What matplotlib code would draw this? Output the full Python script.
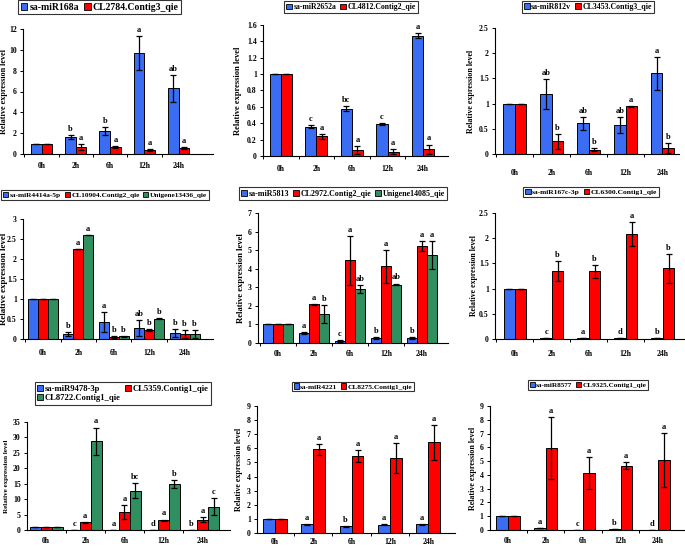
import matplotlib
matplotlib.use("Agg")
import matplotlib.pyplot as plt
from matplotlib.ticker import FuncFormatter, MultipleLocator, FixedLocator
from matplotlib.patches import Patch

plt.rcParams['font.family'] = ['Liberation Serif', 'DejaVu Serif']
plt.rcParams['font.weight'] = 'bold'

categories = ['0h', '2h', '6h', '12h', '24h']

# Panel 1
p1_names = ['sa-miR168a', 'CL2784.Contig3_qie']
p1_blue = [1, 1.6, 2.2, 9.7, 6.3]
p1_blue_err = [0, 0.2, 0.4, 1.6, 1.3]
p1_red = [1, 0.65, 0.65, 0.4, 0.6]
p1_red_err = [0, 0.3, 0.1, 0.1, 0.1]
p1_blue_let = ['', 'b', 'b', 'a', 'ab']
p1_red_let = ['', 'a', 'a', 'a', 'a']

# Panel 2
p2_names = ['sa-miR2652a', 'CL4812.Contig2_qie']
p2_blue = [1, 0.36, 0.58, 0.39, 1.47]
p2_blue_err = [0, 0.02, 0.03, 0.01, 0.03]
p2_red = [1, 0.24, 0.07, 0.05, 0.08]
p2_red_err = [0, 0.03, 0.05, 0.03, 0.06]
p2_blue_let = ['', 'c', 'bc', 'c', 'a']
p2_red_let = ['', 'a', 'a', 'a', 'a']

# Panel 3
p3_names = ['sa-miR812v', 'CL3453.Contig3_qie']
p3_blue = [1, 1.19, 0.61, 0.58, 1.6]
p3_blue_err = [0, 0.3, 0.13, 0.16, 0.33]
p3_red = [1, 0.25, 0.08, 0.95, 0.11]
p3_red_err = [0, 0.15, 0.03, 0.01, 0.1]
p3_blue_let = ['', 'ab', 'ab', 'ab', 'a']
p3_red_let = ['', 'b', 'b', 'a', 'b']

# Panel 4
p4_names = ['sa-miR4414a-5p', 'CL10904.Contig2_qie', 'Unigene13436_qie']
p4_blue = [1, 0.12, 0.43, 0.28, 0.15]
p4_blue_err = [0, 0.05, 0.25, 0.2, 0.1]
p4_red = [1, 2.25, 0.05, 0.22, 0.13]
p4_red_err = [0, 0.01, 0.03, 0.03, 0.1]
p4_green = [1, 2.6, 0.07, 0.51, 0.12]
p4_green_err = [0, 0.01, 0.01, 0.02, 0.1]
p4_blue_let = ['', 'b', 'a', 'ab', 'b']
p4_red_let = ['', 'a', 'b', 'b', 'b']
p4_green_let = ['', 'a', 'b', 'b', 'b']

# Panel 5
p5_names = ['sa-miR5813', 'CL2972.Contig2_qie', 'Unigene14085_qie']
p5_blue = [1, 0.55, 0.1, 0.28, 0.27]
p5_blue_err = [0, 0.05, 0.05, 0.04, 0.03]
p5_red = [1, 2.08, 4.45, 4.13, 5.22]
p5_red_err = [0, 0.03, 1.3, 0.9, 0.25]
p5_green = [1, 1.55, 2.9, 3.15, 4.75]
p5_green_err = [0, 0.48, 0.22, 0.05, 0.75]
p5_blue_let = ['', 'a', 'c', 'b', 'b']
p5_red_let = ['', 'a', 'a', 'a', 'a']
p5_green_let = ['', 'b', 'ab', 'ab', 'a']

# Panel 6
p6_names = ['sa-miR167c-3p', 'CL6300.Contig1_qie']
p6_blue = [1, 0.01, 0.02, 0.01, 0.01]
p6_blue_err = [0, 0, 0, 0, 0]
p6_red = [1, 1.35, 1.34, 2.08, 1.4]
p6_red_err = [0, 0.19, 0.12, 0.24, 0.28]
p6_blue_let = ['', 'c', 'a', 'd', 'b']
p6_red_let = ['', 'b', 'b', 'a', 'b']

# Panel 7
p7_names = ['sa-miR9478-3p', 'CL5359.Contig1_qie', 'CL8722.Contig1_qie']
p7_blue = [1, 0, 0, 0, 0]
p7_blue_err = [0, 0, 0, 0, 0]
p7_red = [1, 2.5, 5.8, 3.2, 3.3]
p7_red_err = [0, 0.2, 2.2, 0.2, 0.8]
p7_green = [1, 28.7, 12.8, 14.8, 7.5]
p7_green_err = [0, 4.5, 2.3, 1.3, 2.8]
p7_blue_let = ['', 'c', 'a', 'd', 'b']
p7_red_let = ['', 'a', 'a', 'a', 'a']
p7_green_let = ['', 'a', 'bc', 'b', 'c']

# Panel 8
p8_names = ['sa-miR4221', 'CL8275.Contig1_qie']
p8_blue = [1, 0.62, 0.47, 0.58, 0.62]
p8_blue_err = [0, 0.03, 0.03, 0.03, 0.02]
p8_red = [1, 5.93, 5.45, 5.3, 6.43]
p8_red_err = [0, 0.4, 0.42, 1.07, 1.23]
p8_blue_let = ['', 'a', 'b', 'a', 'a']
p8_red_let = ['', 'a', 'a', 'a', 'a']

# Panel 9
p9_names = ['sa-miR8577', 'CL9325.Contig1_qie']
p9_blue = [1, 0.12, 0.01, 0.05, 0.01]
p9_blue_err = [0, 0, 0, 0, 0]
p9_red = [1, 5.98, 4.15, 4.68, 5.07]
p9_red_err = [0, 2.25, 1.15, 0.25, 1.95]
p9_blue_let = ['', 'a', 'c', 'b', 'd']
p9_red_let = ['', 'a', 'a', 'a', 'a']

BLUE = '#3a6cf4'
RED = '#ff0000'
GREEN = '#2f8f5f'

W, H = 685, 547
fig = plt.figure(figsize=(6.85, 5.47), dpi=100)

panels = [
    dict(names=p1_names, series=[(p1_blue, p1_blue_err, p1_blue_let, BLUE), (p1_red, p1_red_err, p1_red_let, RED)],
         box=(23, 213, 29, 154), xlim=(-0.54, 5.0), ylim=(0, 12), step=2, leg=(99.5, 7), ncol=2,
         lfs=7.0, ylx=5, ylfs=5.9, xd=11),
    dict(names=p2_names, series=[(p2_blue, p2_blue_err, p2_blue_let, BLUE), (p2_red, p2_red_err, p2_red_let, RED)],
         box=(263, 448, 25, 156), xlim=(-0.5, 4.7), ylim=(0, 1.6), step=0.2, leg=(351, 7), ncol=2,
         lfs=5.6, ylx=239, ylfs=6.1, xd=12),
    dict(names=p3_names, series=[(p3_blue, p3_blue_err, p3_blue_let, BLUE), (p3_red, p3_red_err, p3_red_let, RED)],
         box=(495, 679, 28, 154), xlim=(-0.54, 4.45), ylim=(0, 2.5), step=0.5, leg=(588, 7), ncol=2,
         lfs=5.7, ylx=472, ylfs=5.8, xd=18),
    dict(names=p4_names, series=[(p4_blue, p4_blue_err, p4_blue_let, BLUE), (p4_red, p4_red_err, p4_red_let, RED),
                                 (p4_green, p4_green_err, p4_green_let, GREEN)],
         box=(23, 213, 219, 339), xlim=(-0.56, 4.8), ylim=(0, 3), step=0.5, leg=(105, 195), ncol=3,
         lfs=5.3, ylx=5, ylfs=6.4, xd=13),
    dict(names=p5_names, series=[(p5_blue, p5_blue_err, p5_blue_let, BLUE), (p5_red, p5_red_err, p5_red_let, RED),
                                 (p5_green, p5_green_err, p5_green_let, GREEN)],
         box=(258, 448, 213, 343), xlim=(-0.55, 4.72), ylim=(0, 7), step=1, leg=(343, 193.5), ncol=3,
         lfs=5.8, ylx=242, ylfs=6.2, xd=10),
    dict(names=p6_names, series=[(p6_blue, p6_blue_err, p6_blue_let, BLUE), (p6_red, p6_red_err, p6_red_let, RED)],
         box=(495, 685, 213, 339), xlim=(-0.54, 4.6), ylim=(0, 2.5), step=0.5, leg=(591, 192), ncol=2,
         lfs=5.4, ylx=475, ylfs=5.6, xd=14),
    dict(names=p7_names, series=[(p7_blue, p7_blue_err, p7_blue_let, BLUE), (p7_red, p7_red_err, p7_red_let, RED),
                                 (p7_green, p7_green_err, p7_green_let, GREEN)],
         box=(27, 230, 422, 530), xlim=(-0.49, 4.7), ylim=(0, 35), step=5, leg=(123, 393.5), ncol=2,
         lfs=6.2, ylx=6, ylfs=5.0, xd=10),
    dict(names=p8_names, series=[(p8_blue, p8_blue_err, p8_blue_let, BLUE), (p8_red, p8_red_err, p8_red_let, RED)],
         box=(257, 455, 406, 533), xlim=(-0.47, 4.7), ylim=(0, 9), step=1, leg=(353, 386.5), ncol=2,
         lfs=5.3, ylx=240, ylfs=5.8, xd=8),
    dict(names=p9_names, series=[(p9_blue, p9_blue_err, p9_blue_let, BLUE), (p9_red, p9_red_err, p9_red_let, RED)],
         box=(490, 685, 406, 530), xlim=(-0.48, 4.72), ylim=(0, 9), step=1, leg=(588, 385), ncol=2,
         lfs=5.2, ylx=474, ylfs=5.8, xd=10),
]

fmt = FuncFormatter(lambda v, p: ('%g' % round(v, 3)))

for pan in panels:
    l, r, t, b = pan['box']
    ax = fig.add_axes([l / W, 1 - b / H, (r - l) / W, (b - t) / H])
    n = len(pan['series'])
    width = 0.31 if n == 2 else 0.28
    xs = list(range(len(categories)))
    handles = []
    for i, (vals, errs, lets, col) in enumerate(pan['series']):
        off = (i - (n - 1) / 2) * width
        pos = [x + off for x in xs]
        ax.bar(pos, vals, width=width, color=col, edgecolor='black', linewidth=0.7, zorder=2)
        ax.errorbar(pos, vals, yerr=errs, fmt='none', ecolor='black', elinewidth=0.9,
                    capsize=2.2, capthick=0.9, zorder=3)
        for px, v, e, lt in zip(pos, vals, errs, lets):
            if lt:
                ax.annotate(lt, (px, v + e), xytext=(0, 1.5), textcoords='offset points',
                            ha='center', va='bottom', fontsize=6, fontweight='bold')
        handles.append(Patch(facecolor=col, edgecolor='black', linewidth=0.6))
    ax.set_xlim(*pan['xlim'])
    ax.set_ylim(*pan['ylim'])
    ax.yaxis.set_major_locator(MultipleLocator(pan['step']))
    ax.yaxis.set_major_formatter(fmt)
    ax.set_xticks(xs)
    ax.set_xticklabels(categories)
    ax.xaxis.set_minor_locator(FixedLocator([x + 0.5 for x in xs[:-1]] + [-0.5]))
    ax.tick_params(axis='x', which='major', length=0, pad=(pan['xd'] - 3) * 0.72, labelsize=5.6)
    ax.tick_params(axis='x', which='minor', length=2.5, direction='out', width=0.7)
    ax.tick_params(axis='y', which='major', length=2.5, direction='out', width=0.7, labelsize=5.6, pad=2)
    for s in ['top', 'right']:
        ax.spines[s].set_visible(False)
    for s in ['left', 'bottom']:
        ax.spines[s].set_linewidth(0.8)
    ax.set_ylabel('Relative expression level', fontsize=pan['ylfs'], fontweight='bold')
    ax.yaxis.set_label_coords((pan['ylx'] + 3 - l) / (r - l), 0.5)
    names = pan['names']
    if pan['ncol'] == 2 and n == 3:
        hh = [handles[0], handles[2], handles[1]]
        nn = [names[0], names[2], names[1]]
    else:
        hh, nn = handles, names
    lx, ly = pan['leg']
    leg = fig.legend(hh, nn, loc='center', bbox_to_anchor=(lx / W, 1 - ly / H), ncol=pan['ncol'],
                     fontsize=pan['lfs'], frameon=True, fancybox=False, edgecolor='black',
                     handlelength=0.7, handleheight=0.7, handletextpad=0.2, columnspacing=0.5,
                     borderpad=0.25, labelspacing=0.2, borderaxespad=0)
    leg.get_frame().set_linewidth(0.8)

fig.savefig('out.png', dpi=100)
